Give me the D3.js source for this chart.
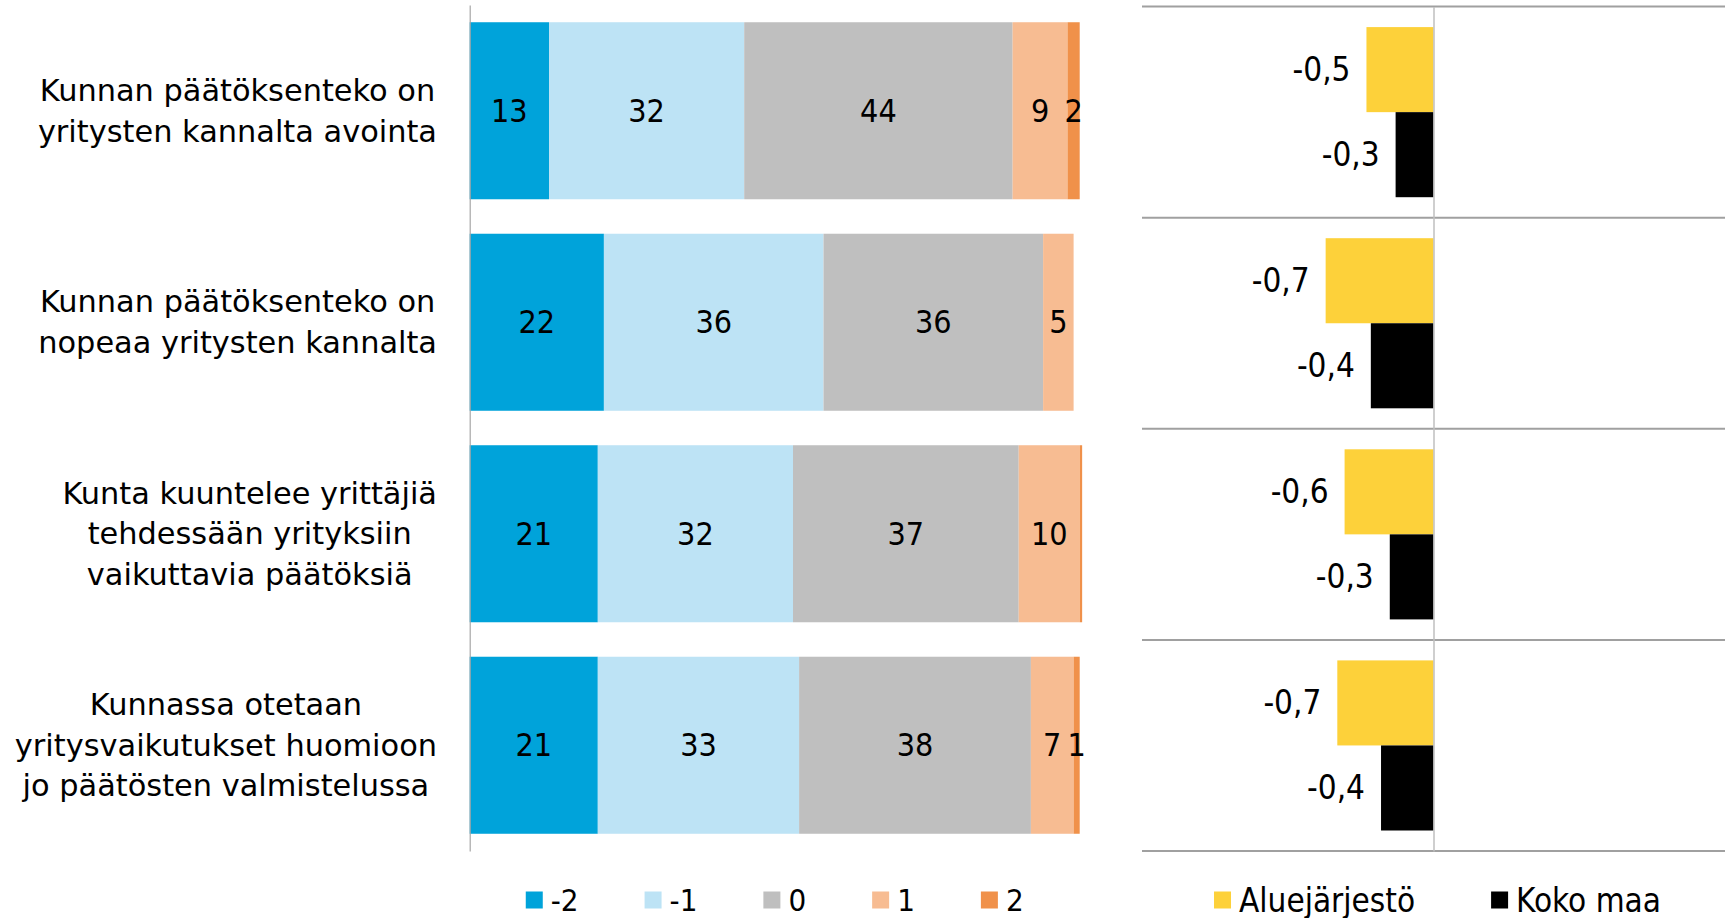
<!DOCTYPE html>
<html>
<head>
<meta charset="utf-8">
<script src="https://cdn.jsdelivr.net/npm/d3@7"></script>
<style>
  html, body { margin: 0; padding: 0; background: #fff; }
  svg { display: block; }
</style>
</head>
<body>
<svg id="chart" width="1725" height="918"></svg>
<script>
// ---------------- DATA ----------------
const categories = [
  "Kunnan päätöksenteko on\nyritysten kannalta avointa",
  "Kunnan päätöksenteko on\nnopeaa yritysten kannalta",
  "Kunta kuuntelee yrittäjiä\ntehdessään yrityksiin\nvaikuttavia päätöksiä",
  "Kunnassa otetaan\nyritysvaikutukset huomioon\njo päätösten valmistelussa"
];
const scaleKeys = ["-2", "-1", "0", "1", "2"];
const valuesMinus2 = [13, 22, 21, 21];
const valuesMinus1 = [32, 36, 32, 33];
const valuesZero   = [44, 36, 37, 38];
const valuesPlus1  = [9, 5, 10, 7];
const valuesPlus2  = [2, 0, 0.4, 1];

const meanKeys = ["Aluejärjestö", "Koko maa"];
const meanAluejarjesto = [-0.46, -0.74, -0.61, -0.66];
const meanKokoMaa      = [-0.26, -0.43, -0.30, -0.36];

// ---------------- STYLE ----------------
const scaleColors = ["#00A3DA", "#BDE3F5", "#BFBFBF", "#F7BC92", "#F0914A"];
const meanColors = ["#FDD13A", "#000000"];
const catFont = "DejaVu Sans";
const numFont = "DejaVu Sans Condensed";

const svg = d3.select("#chart");
const plotTop = 5, plotBottom = 851;

// ---------------- LEFT: stacked bars ----------------
const seriesArrays = [valuesMinus2, valuesMinus1, valuesZero, valuesPlus1, valuesPlus2];
const rows = categories.map((c, i) => {
  const r = { cat: c };
  scaleKeys.forEach((k, j) => r[k] = seriesArrays[j][i]);
  return r;
});
const stack = d3.stack().keys(scaleKeys)(rows);

const xL = d3.scaleLinear().domain([0, 100]).range([469.7, 1079.7]);
const yL = d3.scaleBand().domain(categories).range([plotTop, plotBottom])
  .paddingInner(0.163).paddingOuter(0.0815);

const gL = svg.append("g");
stack.forEach((s, si) => {
  const g = gL.append("g").attr("fill", scaleColors[si]);
  g.selectAll("rect").data(s).join("rect")
    .attr("x", d => xL(d[0]))
    .attr("width", d => xL(d[1]) - xL(d[0]))
    .attr("y", d => yL(d.data.cat))
    .attr("height", yL.bandwidth());
});
stack.forEach((s, si) => {
  gL.append("g").selectAll("text").data(s.filter(d => (d[1] - d[0]) >= 0.5)).join("text")
    .attr("x", d => (xL(d[0]) + xL(d[1])) / 2)
    .attr("y", d => yL(d.data.cat) + yL.bandwidth() / 2)
    .attr("text-anchor", "middle")
    .attr("dominant-baseline", "central")
    .attr("font-family", numFont)
    .attr("font-size", 32)
    .attr("fill", "#000")
    .text(d => d3.format(".0f")(d[1] - d[0]));
});

// left axis line
const axisL = svg.append("g").attr("transform", `translate(${xL(0)},0)`)
  .call(d3.axisLeft(d3.scaleLinear().range([plotTop, plotBottom])).ticks(0).tickSize(0).tickFormat(""));
axisL.select(".domain").attr("stroke", "#A6A6A6").attr("stroke-width", 1.2);

// category labels (lines centred within a right-aligned block)
const catG = svg.append("g");
const lineH = 40.7;
const blockRight = 437;
categories.forEach(c => {
  const lines = c.split("\n");
  const t = catG.append("text")
    .attr("font-family", catFont)
    .attr("font-size", 30.4)
    .attr("fill", "#000")
    .attr("text-anchor", "middle");
  const cy = yL(c) + yL.bandwidth() / 2;
  lines.forEach((ln, i) => {
    t.append("tspan").attr("x", 0)
      .attr("y", cy + (i - (lines.length - 1) / 2) * lineH)
      .attr("dominant-baseline", "central")
      .text(ln);
  });
  let maxW = 0;
  t.selectAll("tspan").each(function () { maxW = Math.max(maxW, this.getComputedTextLength()); });
  t.selectAll("tspan").attr("x", blockRight - maxW / 2);
});

// ---------------- RIGHT: mean bars ----------------
const xR = d3.scaleLinear().domain([-2, 2]).range([1142, 1725]);
const yR = d3.scaleBand().domain(categories).range([plotTop + 1.6, plotBottom]).padding(0);
const ySub = d3.scaleBand().domain(meanKeys).range([0, yR.bandwidth()]).paddingInner(0).paddingOuter(0.241);
const meanArrays = [meanAluejarjesto, meanKokoMaa];

const gR = svg.append("g");
const sepVals = d3.range(categories.length + 1).map(i => yR.range()[0] + i * yR.step());
gR.selectAll("line.sep").data(sepVals).join("line")
  .attr("class", "sep")
  .attr("x1", xR.range()[0]).attr("x2", xR.range()[1])
  .attr("y1", d => d).attr("y2", d => d)
  .attr("stroke", "#A0A0A0").attr("stroke-width", 2);

meanKeys.forEach((k, ki) => {
  gR.append("g").attr("fill", meanColors[ki]).selectAll("rect")
    .data(categories.map((c, i) => ({ cat: c, v: meanArrays[ki][i] })))
    .join("rect")
    .attr("x", d => xR(Math.min(0, d.v)))
    .attr("width", d => Math.abs(xR(d.v) - xR(0)))
    .attr("y", d => yR(d.cat) + ySub(k))
    .attr("height", ySub.bandwidth());
});

const axisR = svg.append("g").attr("transform", `translate(${xR(0)},0)`)
  .call(d3.axisLeft(d3.scaleLinear().range([sepVals[0], sepVals[sepVals.length - 1]])).ticks(0).tickSize(0).tickFormat(""));
axisR.select(".domain").attr("stroke", "#BFBFBF").attr("stroke-width", 1.5);

const fiLocale = d3.formatLocale({ decimal: ",", thousands: " ", grouping: [3], currency: ["", " €"], minus: "-" });
const fmt1 = fiLocale.format(".1f");
meanKeys.forEach((k, ki) => {
  gR.append("g").selectAll("text")
    .data(categories.map((c, i) => ({ cat: c, v: meanArrays[ki][i] })))
    .join("text")
    .attr("x", d => xR(Math.min(0, d.v)) - 16)
    .attr("y", d => yR(d.cat) + ySub(k) + ySub.bandwidth() / 2)
    .attr("text-anchor", "end")
    .attr("dominant-baseline", "central")
    .attr("font-family", numFont)
    .attr("font-size", 33)
    .attr("fill", "#000")
    .text(d => fmt1(d.v));
});

// ---------------- LEGENDS ----------------
function legend(keys, colors, centerX, cy, itemGap, fontSize) {
  const g = svg.append("g");
  const sw = 17, gap = 8;
  const items = keys.map((k, i) => {
    const gi = g.append("g");
    gi.append("rect").attr("width", sw).attr("height", sw).attr("y", cy - sw / 2).attr("fill", colors[i]);
    const t = gi.append("text").attr("x", sw + gap).attr("y", cy)
      .attr("dominant-baseline", "central")
      .attr("font-family", numFont).attr("font-size", fontSize).attr("fill", "#000").text(k);
    return { gi, w: sw + gap + t.node().getComputedTextLength() };
  });
  const total = d3.sum(items, d => d.w) + itemGap * (items.length - 1);
  let x = centerX - total / 2;
  items.forEach(it => { it.gi.attr("transform", `translate(${x},0)`); x += it.w + itemGap; });
}
legend(scaleKeys, scaleColors, (xL.range()[0] + xL.range()[1]) / 2, 900, 66, 31);
legend(meanKeys, meanColors, (xR.range()[0] + xR.range()[1]) / 2 + 4, 900, 76, 33);
</script>
</body>
</html>
